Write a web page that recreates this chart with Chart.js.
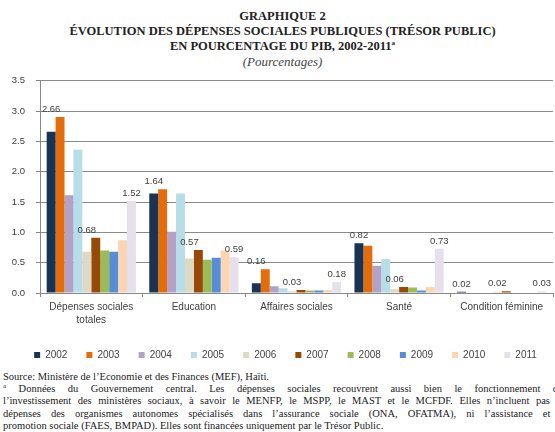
<!DOCTYPE html>
<html>
<head>
<meta charset="utf-8">
<script src="https://cdn.jsdelivr.net/npm/chart.js@4/dist/chart.umd.min.js"></script>
<style>
  html, body { margin: 0; padding: 0; background: #fff; }
  body { width: 555px; height: 432px; overflow: hidden; position: relative; }
  .title { position: absolute; left: 0; width: 565px; text-align: center; font-family: "Liberation Serif", "Times New Roman", serif; color: #222; }
  .title .b { font-weight: bold; font-size: 12.5px; line-height: 15px; }
  .title .i { font-style: italic; font-size: 13px; line-height: 15px; color: #444; }
  .title sup { font-size: 7px; line-height: 0; }
  #wrap { position: absolute; left: 0; top: 64px; width: 555px; height: 306px; }
  .notes { position: absolute; left: 3px; top: 371px; font-family: "Liberation Serif", "Times New Roman", serif; font-size: 10.5px; line-height: 12.2px; color: #222; }
  .notes div { width: 565px; white-space: nowrap; }
  .notes .j { text-align: justify; text-align-last: justify; }
  .notes sup { font-size: 7px; line-height: 0; }
</style>
</head>
<body>
<div class="title" style="top:9px">
  <div class="b">GRAPHIQUE 2</div>
  <div class="b">ÉVOLUTION DES DÉPENSES SOCIALES PUBLIQUES (TRÉSOR PUBLIC)</div>
  <div class="b">EN POURCENTAGE DU PIB, 2002-2011<sup>a</sup></div>
  <div class="i">(Pourcentages)</div>
</div>
<div id="wrap"><canvas id="chart"></canvas></div>
<div class="notes">
  <div>Source: Ministère de l’Economie et des Finances (MEF), Haïti.</div>
  <div class="j"><sup>a</sup> Données du Gouvernement central. Les dépenses sociales recouvrent aussi bien le fonctionnement que</div>
  <div class="j">l’investissement des ministères sociaux, à savoir le MENFP, le MSPP, le MAST et le MCFDF. Elles n’incluent pas les</div>
  <div class="j">dépenses des organismes autonomes spécialisés dans l’assurance sociale (ONA, OFATMA), ni l’assistance et la</div>
  <div>promotion sociale (FAES, BMPAD). Elles sont financées uniquement par le Trésor Public.</div>
</div>
<script>
// ─── Data ──────────────────────────────────────────────
const categories = [['Dépenses sociales', 'totales'], 'Education', 'Affaires sociales', 'Santé', 'Condition féminine'];
const years = ['2002', '2003', '2004', '2005', '2006', '2007', '2008', '2009', '2010', '2011'];

const v2002 = [2.66, 1.64, 0.16, 0.82, 0.02];
const v2003 = [2.90, 1.71, 0.39, 0.78, 0.01];
const v2004 = [1.61, 1.01, 0.11, 0.45, 0.01];
const v2005 = [2.36, 1.64, 0.08, 0.56, 0.01];
const v2006 = [0.68, 0.57, 0.03, 0.06, 0.02];
const v2007 = [0.91, 0.71, 0.05, 0.10, 0.03];
const v2008 = [0.70, 0.55, 0.04, 0.09, 0.01];
const v2009 = [0.68, 0.58, 0.04, 0.04, 0.01];
const v2010 = [0.87, 0.70, 0.05, 0.10, 0.01];
const v2011 = [1.52, 0.59, 0.18, 0.73, 0.03];

const yTicks = [0, 0.5, 1.0, 1.5, 2.0, 2.5, 3.0, 3.5];

// series that carry value labels
const labelled = ['2002', '2006', '2011'];

const series = [v2002, v2003, v2004, v2005, v2006, v2007, v2008, v2009, v2010, v2011];
const colors = ['#1b3352', '#e46c0a', '#b3a2c7', '#b7dee8', '#ddd9c3',
                '#984807', '#9bbb59', '#558ed5', '#fcd5b5', '#e6e0ec'];

// ─── Value labels (kept clear of the next bar) ─────────
const valueLabels = {
    id: 'valueLabels',
    afterDatasetsDraw(chart) {
        const ctx = chart.ctx;
        ctx.save();
        ctx.font = '9.5px "Liberation Sans", Arial, sans-serif';
        ctx.fillStyle = '#404040';
        ctx.textAlign = 'center';
        ctx.textBaseline = 'bottom';
        chart.data.datasets.forEach((ds, i) => {
            if (!labelled.includes(ds.label)) return;
            const next = chart.getDatasetMeta(i + 1);
            chart.getDatasetMeta(i).data.forEach((bar, j) => {
                let top = bar.y;
                if (next && next.data && next.data[j]) top = Math.min(top, next.data[j].y);
                ctx.fillText(ds.data[j].toFixed(2), bar.x, top - 3);
            });
        });
        ctx.restore();
    }
};

// move the legend a little right, as in the source figure
const legendShift = {
    id: 'legendShift',
    afterLayout(chart) {
        chart.legend.left += 9;
        chart.legend.right += 9;
    }
};

const font = { size: 10, family: '"Liberation Sans", Arial, sans-serif' };

new Chart(document.getElementById('chart').getContext('2d'), {
    type: 'bar',
    data: {
        labels: categories,
        datasets: years.map((y, i) => ({
            label: y,
            data: series[i],
            backgroundColor: colors[i],
            borderWidth: 0,
            categoryPercentage: 0.87,
            barPercentage: 1.0
        }))
    },
    options: {
        responsive: true,
        maintainAspectRatio: false,
        animation: false,
        layout: { padding: { top: 0, bottom: 0, left: 0, right: 2 } },
        plugins: {
            legend: {
                position: 'bottom',
                labels: {
                    boxWidth: 6,
                    boxHeight: 6,
                    padding: 19,
                    font: font,
                    color: '#444'
                }
            },
            tooltip: { enabled: false }
        },
        scales: {
            y: {
                min: 0,
                max: 3.5,
                afterFit: s => { s.width = 40; },
                afterBuildTicks: s => { s.ticks = yTicks.map(v => ({ value: v })); },
                ticks: {
                    padding: 11,
                    font: { size: 9.5, family: font.family },
                    color: '#404040',
                    callback: v => v.toFixed(1)
                },
                grid: {
                    color: '#8a8a8a',
                    borderDash: [2, 2],
                    tickLength: 4,
                    tickColor: '#888',
                    tickBorderDash: []
                },
                border: { display: true, color: '#888' }
            },
            x: {
                ticks: {
                    padding: 4,
                    font: { size: 10, family: font.family, lineHeight: 1.3 },
                    color: '#404040',
                    maxRotation: 0,
                    autoSkip: false
                },
                grid: {
                    drawOnChartArea: false,
                    tickLength: 4,
                    color: '#888'
                },
                border: { display: true, color: '#888' }
            }
        }
    },
    plugins: [valueLabels, legendShift]
});
</script>
</body>
</html>
